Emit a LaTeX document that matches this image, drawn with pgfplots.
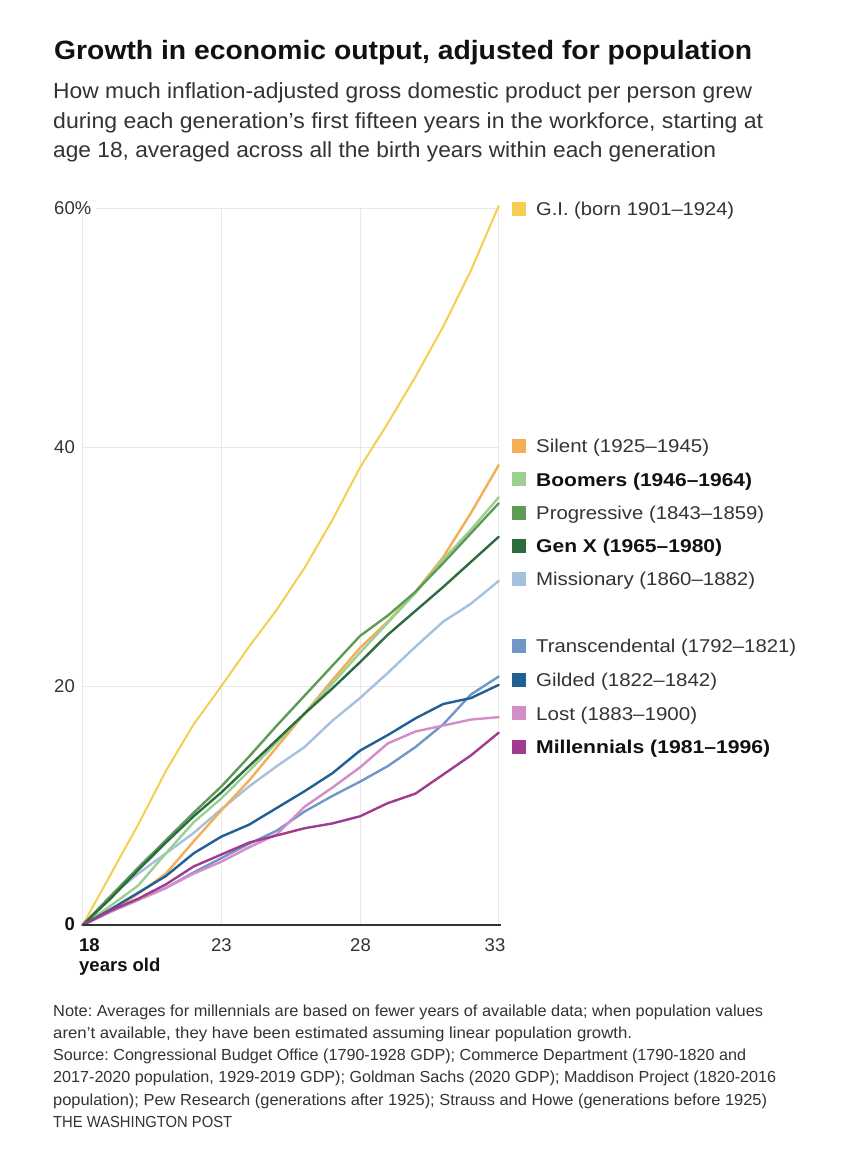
\documentclass[border=0pt]{standalone}
\usepackage{fontspec}
\setmainfont{Liberation Sans}
\usepackage{graphicx}
\usepackage{pgfplots}
\usepackage{pgfplotstable}
\pgfplotsset{compat=1.18}

\definecolor{cgi}{HTML}{F6CF50}
\definecolor{csilent}{HTML}{F5AE55}
\definecolor{cboom}{HTML}{9BD092}
\definecolor{cprog}{HTML}{5E9B55}
\definecolor{cgenx}{HTML}{2D6C3F}
\definecolor{cmiss}{HTML}{A6C0E0}
\definecolor{ctrans}{HTML}{7196C8}
\definecolor{cgild}{HTML}{215F94}
\definecolor{clost}{HTML}{D38DC8}
\definecolor{cmill}{HTML}{A13B8F}
\definecolor{gridgray}{HTML}{E8E8E8}
\definecolor{txt}{HTML}{333333}
\definecolor{ttl}{HTML}{111111}

\frenchspacing
\newlength\fitlen
\newcommand\fitto[2]{\settowidth\fitlen{#2}\pgfmathsetmacro\fitsx{#1/\fitlen}\scalebox{\fitsx}[1]{#2}}
\newcommand\lab{\fontsize{18.5}{22}\selectfont}
\newcommand\sub{\fontsize{21.9}{26}\selectfont}
\newcommand\nte{\fontsize{16}{19}\selectfont}

\pgfplotstableread{
age gi silent boomers progressive genx missionary transc gilded lost millennials
18 0 0 0 0 0 0 0 0 0 0
19 4.2 1.2 1.6 2.4 2.2 2.4 1.1 1.3 1.1 1.2
20 8.4 2.6 3.3 4.8 4.6 4.3 2.1 2.7 2.1 2.2
21 12.9 4.3 6.0 7.1 6.9 6.0 3.1 4.1 3.1 3.4
22 16.8 7.0 8.6 9.4 9.1 7.7 4.4 6.0 4.3 4.9
23 20.0 9.6 10.6 11.6 11.1 9.7 5.6 7.4 5.3 5.9
24 23.3 12.1 12.9 14.1 13.3 11.6 6.8 8.4 6.5 6.9
25 26.4 14.9 15.3 16.7 15.5 13.3 7.9 9.8 7.6 7.5
26 29.9 17.7 17.7 19.2 17.7 14.9 9.5 11.2 9.9 8.1
27 33.9 20.5 20.2 21.7 19.8 17.1 10.8 12.7 11.5 8.5
28 38.3 23.2 22.8 24.2 22.0 19.0 12.0 14.6 13.2 9.1
29 42.0 25.4 25.3 25.9 24.3 21.1 13.3 15.9 15.2 10.2
30 45.9 27.9 27.8 27.9 26.3 23.3 14.9 17.3 16.2 11.0
31 50.1 30.8 30.6 30.3 28.3 25.4 16.8 18.5 16.7 12.6
32 54.8 34.5 33.1 32.8 30.4 26.9 19.3 19.0 17.2 14.2
33 60.2 38.5 35.8 35.3 32.5 28.8 20.8 20.1 17.4 16.1
}\data

\begin{document}
\begin{tikzpicture}[x=1pt,y=1pt]
\fill[white] (0,0) rectangle (848,1170);
\path[use as bounding box] (0,0) rectangle (848,1170);

% title and subtitle
\node[anchor=base west,inner sep=0,text=ttl] at (54,1110) {\fitto{698}{\fontsize{26.5}{30}\selectfont\bfseries Growth in economic output, adjusted for population}};
\node[anchor=base west,inner sep=0,text=txt] at (53,1071.5) {\fitto{699}{\sub How much inflation-adjusted gross domestic product per person grew}};
\node[anchor=base west,inner sep=0,text=txt] at (53,1041.5) {\fitto{710}{\sub during each generation’s first fifteen years in the workforce, starting at}};
\node[anchor=base west,inner sep=0,text=txt] at (53,1012) {\fitto{663}{\sub age 18, averaged across all the birth years within each generation}};

\begin{axis}[at={(82.7pt,245pt)}, anchor=south west, scale only axis,
  width=416pt, height=716.7pt,
  xmin=18, xmax=33, ymin=0, ymax=60,
  xtick={18,23,28,33}, ytick={20,40,60},
  xticklabels={,,,}, yticklabels={,,},
  grid=major, grid style={draw=gridgray, line width=1pt},
  axis line style={draw=none}, major tick length=0pt,
  clip=false,
  every axis plot/.append style={line join=round, line cap=round, line width=2.4pt}]
\addplot[cgi, line width=2pt] table[x=age,y=gi]{\data};
\addplot[cmiss] table[x=age,y=missionary]{\data};
\addplot[csilent] table[x=age,y=silent]{\data};
\addplot[cboom] table[x=age,y=boomers]{\data};
\addplot[cprog] table[x=age,y=progressive]{\data};
\addplot[cgenx] table[x=age,y=genx]{\data};
\addplot[ctrans] table[x=age,y=transc]{\data};
\addplot[clost] table[x=age,y=lost]{\data};
\addplot[cgild] table[x=age,y=gilded]{\data};
\addplot[cmill] table[x=age,y=millennials]{\data};
\draw[black!80, line width=2pt] (axis cs:18,0) -- (axis cs:33.1,0);
\end{axis}

% y tick labels
\fill[white] (83,960) rectangle (96,964);
\node[anchor=east,inner sep=0,text=txt] at (75,962) {\lab 60\rlap{\%}};
\node[anchor=east,inner sep=0,text=txt] at (75,723) {\lab 40};
\node[anchor=east,inner sep=0,text=txt] at (75,484) {\lab 20};
\node[anchor=east,inner sep=0,text=ttl] at (75,246) {\lab\bfseries 0};
% x tick labels
\node[anchor=base west,inner sep=0,text=ttl] at (79,218.5) {\lab\bfseries 18};
\node[anchor=base,inner sep=0,text=txt] at (221.4,218.5) {\lab 23};
\node[anchor=base,inner sep=0,text=txt] at (360.5,218.5) {\lab 28};
\node[anchor=base,inner sep=0,text=txt] at (495,218.5) {\lab 33};
\node[anchor=base west,inner sep=0,text=ttl] at (79,198) {\lab\bfseries years old};

% legend
\fill[cgi] (512,954) rectangle (526,968);
\node[anchor=base west,inner sep=0,text=txt] at (536,954.4) {\fitto{198}{\lab G.I. (born 1901–1924)}};
\fill[csilent] (512,717) rectangle (526,731);
\node[anchor=base west,inner sep=0,text=txt] at (536,717.4) {\fitto{173}{\lab Silent (1925–1945)}};
\fill[cboom] (512,683.5) rectangle (526,697.5);
\node[anchor=base west,inner sep=0,text=ttl] at (536,683.9) {\fitto{216}{\lab\bfseries Boomers (1946–1964)}};
\fill[cprog] (512,650.3) rectangle (526,664.3);
\node[anchor=base west,inner sep=0,text=txt] at (536,650.7) {\fitto{228}{\lab Progressive (1843–1859)}};
\fill[cgenx] (512,617.1) rectangle (526,631.1);
\node[anchor=base west,inner sep=0,text=ttl] at (536,617.5) {\fitto{186}{\lab\bfseries Gen X (1965–1980)}};
\fill[cmiss] (512,583.9) rectangle (526,597.9);
\node[anchor=base west,inner sep=0,text=txt] at (536,584.3) {\fitto{219}{\lab Missionary (1860–1882)}};
\fill[ctrans] (512,516.7) rectangle (526,530.7);
\node[anchor=base west,inner sep=0,text=txt] at (536,517.1) {\fitto{260}{\lab Transcendental (1792–1821)}};
\fill[cgild] (512,482.7) rectangle (526,496.7);
\node[anchor=base west,inner sep=0,text=txt] at (536,483.1) {\fitto{181}{\lab Gilded (1822–1842)}};
\fill[clost] (512,449.5) rectangle (526,463.5);
\node[anchor=base west,inner sep=0,text=txt] at (536,449.9) {\fitto{161}{\lab Lost (1883–1900)}};
\fill[cmill] (512,416.3) rectangle (526,430.3);
\node[anchor=base west,inner sep=0,text=ttl] at (536,416.7) {\fitto{234}{\lab\bfseries Millennials (1981–1996)}};

% notes
\node[anchor=base west,inner sep=0,text=txt] at (53,153.5) {\fitto{710}{\nte Note: Averages for millennials are based on fewer years of available data; when population values}};
\node[anchor=base west,inner sep=0,text=txt] at (53,131.5) {\fitto{579}{\nte aren’t available, they have been estimated assuming linear population growth.}};
\node[anchor=base west,inner sep=0,text=txt] at (53,109) {\fitto{693}{\nte Source: Congressional Budget Office (1790-1928 GDP); Commerce Department (1790-1820 and}};
\node[anchor=base west,inner sep=0,text=txt] at (53,87) {\fitto{723}{\nte 2017-2020 population, 1929-2019 GDP); Goldman Sachs (2020 GDP); Maddison Project (1820-2016}};
\node[anchor=base west,inner sep=0,text=txt] at (53,64.5) {\fitto{714}{\nte population); Pew Research (generations after 1925); Strauss and Howe (generations before 1925)}};
\node[anchor=base west,inner sep=0,text=txt] at (53,42) {\fitto{179}{\nte THE WASHINGTON POST}};
\end{tikzpicture}
\end{document}
